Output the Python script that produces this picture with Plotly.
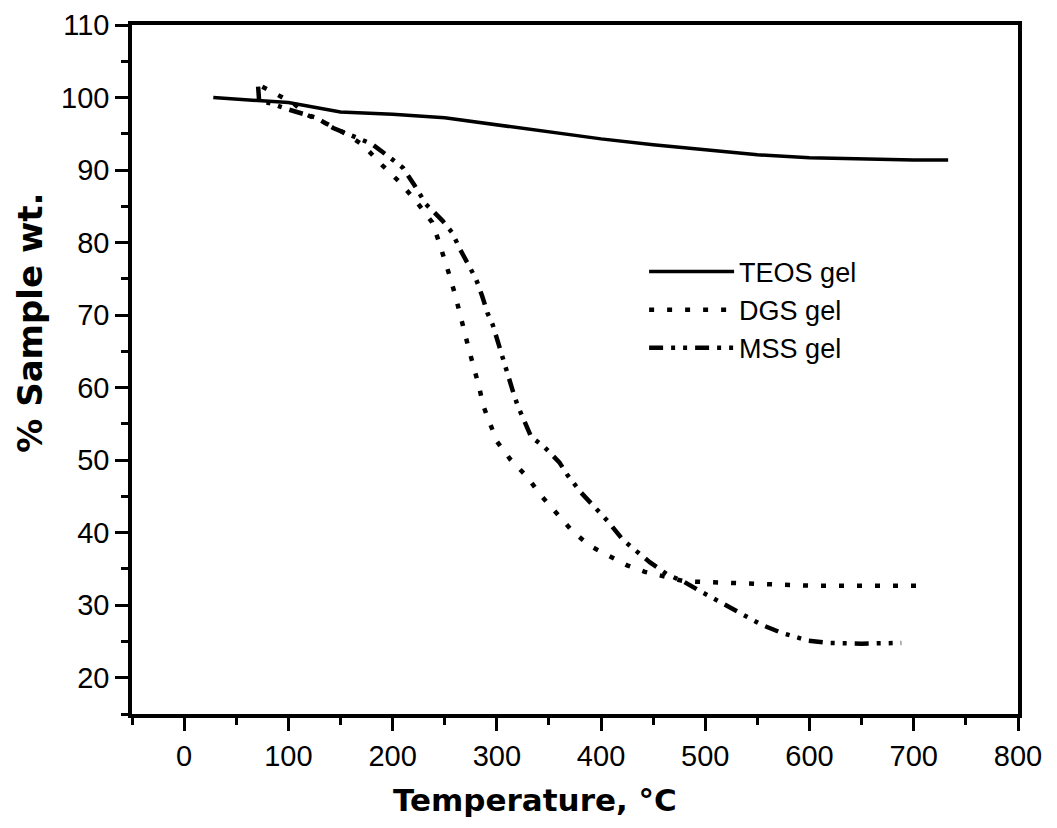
import plotly.graph_objects as go

# ---- data ----
teos_t = [28, 50, 100, 150, 200, 250, 300, 350, 400, 450, 500, 550, 600, 650, 700, 733]
teos_w = [100.0, 99.8, 99.3, 98.0, 97.7, 97.2, 96.2, 95.2, 94.3, 93.5, 92.8, 92.1, 91.7, 91.5, 91.4, 91.4]

dgs_t = [75, 84, 95, 105, 118, 138, 155, 172, 189, 207, 222, 238, 244, 250, 255, 260, 264, 269,
         273, 278, 283, 287, 293, 300, 313, 329, 342, 357, 372, 389, 409, 425, 442, 460, 480,
         500, 550, 600, 650, 712]
dgs_w = [101.5, 100.8, 100.1, 99.2, 97.6, 96.3, 95.0, 93.4, 90.8, 88.3, 85.8, 82.8, 80.3, 77.8,
         75.3, 72.8, 70.3, 67.7, 65.4, 62.8, 60.1, 57.5, 55.2, 52.6, 50.1, 47.7, 45.2, 42.8, 40.3,
         38.2, 36.7, 35.5, 34.6, 34.0, 33.3, 33.2, 33.0, 32.7, 32.7, 32.7]

mss_t = [71, 72, 83, 99, 127, 143, 160, 180, 195, 210, 221, 232, 248, 257, 265, 274, 280, 286,
         291, 296, 301, 306, 310, 315, 320, 325, 333, 345, 360, 368, 381, 396, 407, 421, 436,
         447, 464, 480, 493, 509, 527, 554, 573, 599, 618, 650, 688]
mss_w = [101.5, 99.5, 99.2, 98.4, 97.2, 95.8, 94.8, 93.6, 92.0, 90.3, 87.9, 85.3, 83.0, 81.4,
         79.0, 76.7, 75.0, 72.6, 70.3, 68.7, 66.2, 64.0, 62.2, 59.7, 57.5, 55.9, 53.2, 51.9,
         49.7, 47.9, 45.5, 43.2, 41.5, 39.0, 37.1, 35.9, 34.2, 33.2, 32.1, 30.8, 29.5, 27.3,
         26.2, 25.1, 24.8, 24.7, 24.8]

x_ticks = [0, 100, 200, 300, 400, 500, 600, 700, 800]
y_ticks = [20, 30, 40, 50, 60, 70, 80, 90, 100, 110]

FONT = "Arial, Liberation Sans, Helvetica, sans-serif"
TITLE_FONT = "DejaVu Sans, Arial, sans-serif"

fig = go.Figure()
fig.add_trace(go.Scatter(x=teos_t, y=teos_w, mode="lines", name="TEOS gel",
                         line=dict(color="black", width=3.5, dash="solid")))
fig.add_trace(go.Scatter(x=dgs_t, y=dgs_w, mode="lines", name="DGS gel",
                         line=dict(color="black", width=4.5, dash="5px,13px")))
fig.add_trace(go.Scatter(x=mss_t, y=mss_w, mode="lines", name="MSS gel",
                         line=dict(color="black", width=4.5,
                                   dash="14px,8px,4px,8px,4px,8px")))

axis_common = dict(
    showline=True, linecolor="black", linewidth=3.5, mirror=True,
    ticks="outside", tickcolor="black", tickwidth=3, ticklen=13,
    showgrid=False, zeroline=False, automargin=False,
    tickfont=dict(family=FONT, size=29, color="black"),
)

fig.update_xaxes(range=[-50, 800], tickvals=x_ticks,
                 minor=dict(ticks="outside", ticklen=7, tickwidth=3, tickcolor="black", dtick=50, tick0=-50),
                 **axis_common)
fig.update_yaxes(range=[15, 110], tickvals=y_ticks,
                 minor=dict(ticks="outside", ticklen=7, tickwidth=3, tickcolor="black", dtick=5, tick0=15),
                 **axis_common)

# page body has an 8px margin, so the figure is a little smaller than the window
fig.update_layout(
    width=1049, height=820,
    margin=dict(l=124, r=39, t=17, b=114),
    paper_bgcolor="white", plot_bgcolor="white",
    font=dict(family=FONT, color="black"),
    showlegend=True,
    legend=dict(x=0.578, y=0.677, xanchor="left", yanchor="top",
                bgcolor="rgba(0,0,0,0)", font=dict(family=FONT, size=27, color="black"),
                itemwidth=85, tracegroupgap=0),
    annotations=[
        dict(text="<b>Temperature, °C</b>", xref="paper", yref="paper",
             x=0.455, y=-0.125, xanchor="center", yanchor="middle", showarrow=False,
             font=dict(family=TITLE_FONT, size=31, color="black")),
        dict(text="<b>% Sample wt.</b>", xref="paper", yref="paper",
             x=-0.115, y=0.568, xanchor="center", yanchor="middle", showarrow=False,
             textangle=-90, font=dict(family=TITLE_FONT, size=34, color="black")),
    ],
)

fig.write_html("out.html")
